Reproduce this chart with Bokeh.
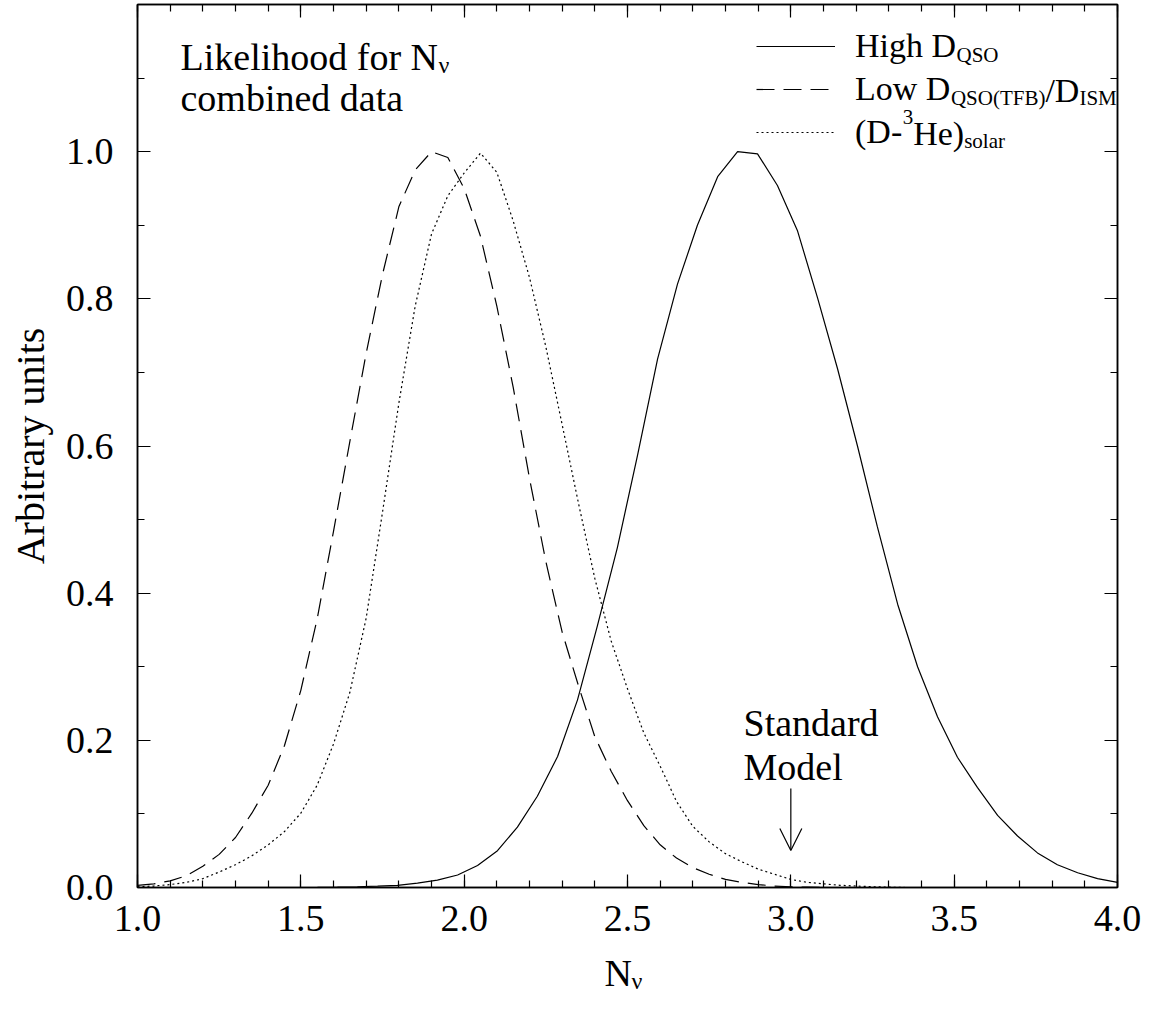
from bokeh.plotting import figure
from bokeh.models import (Range1d, LinearAxis, SingleIntervalTicker, FixedTicker,
                          NumeralTickFormatter, Label, Arrow, OpenHead, Legend, LegendItem)
from bokeh.embed import file_html
from bokeh.resources import INLINE

# ---------------- data ----------------
n_high = [1.000, 1.061, 1.122, 1.184, 1.245, 1.306, 1.367, 1.429, 1.490, 1.551,
          1.612, 1.673, 1.735, 1.796, 1.857, 1.918, 1.980, 2.041, 2.102, 2.163,
          2.224, 2.286, 2.347, 2.408, 2.469, 2.531, 2.592, 2.653, 2.714, 2.776,
          2.837, 2.898, 2.959, 3.020, 3.082, 3.143, 3.204, 3.265, 3.327, 3.388,
          3.449, 3.510, 3.571, 3.633, 3.694, 3.755, 3.816, 3.878, 3.939, 4.000]
high_dqso = [0.0, 0.0, 0.0, 0.0, 0.0, 0.0, 0.0, 0.0, 0.0, 0.0002,
             0.0005, 0.001, 0.002, 0.003, 0.006, 0.010, 0.017, 0.030, 0.050, 0.082,
             0.124, 0.178, 0.255, 0.356, 0.462, 0.588, 0.718, 0.820, 0.900, 0.966,
             1.000, 0.997, 0.954, 0.893, 0.801, 0.705, 0.600, 0.490, 0.385, 0.300,
             0.232, 0.177, 0.136, 0.098, 0.070, 0.047, 0.031, 0.020, 0.012, 0.007]

n_low = [1.00, 1.05, 1.10, 1.15, 1.20, 1.25, 1.30, 1.35, 1.40, 1.45,
         1.50, 1.55, 1.60, 1.65, 1.70, 1.75, 1.80, 1.85, 1.90, 1.95,
         2.00, 2.05, 2.10, 2.15, 2.20, 2.25, 2.30, 2.35, 2.40, 2.45,
         2.50, 2.55, 2.60, 2.65, 2.70, 2.75, 2.80, 2.85, 2.90, 2.95,
         3.00, 3.05, 3.10, 3.15, 3.20]
low_dqso = [0.003, 0.005, 0.009, 0.016, 0.029, 0.045, 0.068, 0.101, 0.139, 0.193,
            0.268, 0.365, 0.484, 0.606, 0.726, 0.833, 0.925, 0.975, 1.000, 0.992,
            0.950, 0.885, 0.790, 0.680, 0.556, 0.443, 0.347, 0.274, 0.205, 0.158,
            0.118, 0.084, 0.058, 0.040, 0.027, 0.018, 0.011, 0.007, 0.004, 0.002,
            0.001, 0.0005, 0.0, 0.0, 0.0]

n_solar = [1.00, 1.05, 1.10, 1.15, 1.20, 1.25, 1.30, 1.35, 1.40, 1.45,
           1.50, 1.55, 1.60, 1.65, 1.70, 1.75, 1.80, 1.85, 1.90, 1.95,
           2.00, 2.05, 2.10, 2.15, 2.20, 2.25, 2.30, 2.35, 2.40, 2.45,
           2.50, 2.55, 2.60, 2.65, 2.70, 2.75, 2.80, 2.85, 2.90, 2.95,
           3.00, 3.05, 3.10, 3.15, 3.20, 3.25, 3.30, 3.35, 3.40]
d_he3_solar = [0.001, 0.002, 0.004, 0.007, 0.012, 0.021, 0.031, 0.043, 0.058, 0.076,
               0.101, 0.139, 0.195, 0.265, 0.366, 0.510, 0.658, 0.790, 0.888, 0.940,
               0.971, 0.998, 0.972, 0.906, 0.829, 0.735, 0.629, 0.522, 0.420, 0.335,
               0.270, 0.210, 0.165, 0.117, 0.083, 0.062, 0.046, 0.035, 0.025, 0.018,
               0.011, 0.007, 0.005, 0.003, 0.002, 0.001, 0.0005, 0.0, 0.0]

y_major_ticks = [0.0, 0.2, 0.4, 0.6, 0.8, 1.0]
y_minor_ticks = [0.1, 0.3, 0.5, 0.7, 0.9, 1.1]
standard_model_nnu = 3.0

# ---------------- layout helpers (pixel -> data for annotations) ----------------
FL, FR, FT, FB = 137, 1117, 4, 887
X0, X1, Y0, Y1 = 1.0, 4.0, 0.0, 1.2
def px2x(px):
    return X0 + (px - FL) * (X1 - X0) / (FR - FL)
def px2y(py):
    return Y0 + (FB - py) * (Y1 - Y0) / (FB - FT)

FONT = "Liberation Serif"
BIG = "38px"
SUBBIG = "24px"
LEG = "34px"
LEGSUB = "21px"
YFIX = -11  # baseline correction for Label text

p = figure(width=1151, height=1011, output_backend="svg", toolbar_location=None,
           x_range=Range1d(X0, X1), y_range=Range1d(Y0, Y1),
           min_border_left=FL, min_border_right=1151 - FR,
           min_border_top=FT, min_border_bottom=1011 - FB)
p.xgrid.visible = False
p.ygrid.visible = False
p.background_fill_color = "white"
p.border_fill_color = "white"
p.outline_line_color = "black"
p.outline_line_width = 1.5

def style_axis(ax, show_labels):
    ax.axis_line_color = "black"
    ax.axis_line_width = 1.5
    ax.major_tick_in = 13
    ax.major_tick_out = 0
    ax.minor_tick_in = 7
    ax.minor_tick_out = 0
    ax.major_tick_line_color = "black"
    ax.minor_tick_line_color = "black"
    ax.major_tick_line_width = 1.2
    ax.minor_tick_line_width = 1.2
    if show_labels:
        ax.major_label_text_font = FONT
        ax.major_label_text_font_size = BIG
        ax.major_label_text_color = "black"
    else:
        ax.major_label_text_font_size = "1px"
        ax.major_label_text_color = None
        ax.major_label_standoff = 0

xt = SingleIntervalTicker(interval=0.5, num_minor_ticks=5)
yt = FixedTicker(ticks=y_major_ticks, minor_ticks=y_minor_ticks)
fmt = NumeralTickFormatter(format="0.0")

p.xaxis.ticker = xt
p.yaxis.ticker = yt
p.xaxis.formatter = fmt
p.yaxis.formatter = fmt
style_axis(p.xaxis[0], True)
style_axis(p.yaxis[0], True)
p.xaxis.major_label_standoff = 18
p.yaxis.major_label_standoff = 24
p.yaxis.axis_label = "Arbitrary units"
p.yaxis.axis_label_text_font = FONT
p.yaxis.axis_label_text_font_size = "40px"
p.yaxis.axis_label_text_font_style = "normal"
p.yaxis.axis_label_text_color = "black"
p.yaxis.axis_label_standoff = 10

top = LinearAxis(ticker=SingleIntervalTicker(interval=0.5, num_minor_ticks=5))
style_axis(top, False)
p.add_layout(top, "above")
right = LinearAxis(ticker=FixedTicker(ticks=y_major_ticks, minor_ticks=y_minor_ticks))
style_axis(right, False)
p.add_layout(right, "right")

# ---------------- curves ----------------
r1 = p.line(n_high, high_dqso, line_color="black", line_width=1.2)
r2 = p.line(n_low, low_dqso, line_color="black", line_width=1.2, line_dash="18 9")
r3 = p.line(n_solar, d_he3_solar, line_color="black", line_width=1.2, line_dash="2 3")

legend = Legend(items=[LegendItem(label="High D", renderers=[r1]),
                       LegendItem(label="Low D", renderers=[r2]),
                       LegendItem(label="(D-", renderers=[r3])],
                location=(756 - FL, FB - 152), orientation="vertical",
                glyph_width=79, glyph_height=40, label_height=40, label_standoff=20,
                spacing=3, padding=0, margin=0,
                border_line_alpha=0, background_fill_alpha=0,
                label_text_font=FONT, label_text_font_size=LEG,
                label_text_color="black")
p.add_layout(legend)

def lab(text, px, py, size, place=None):
    l = Label(x=px2x(px), y=px2y(py + YFIX), text=text, text_font=FONT,
              text_font_size=size, text_color="black", text_align="left",
              text_baseline="alphabetic")
    if place is None:
        p.add_layout(l)
    else:
        p.add_layout(l, place)

# legend sub/superscripts
lab("QSO", 956, 65, LEGSUB)
lab("QSO(TFB)", 950.4, 108, LEGSUB)
lab("/D", 1044.9, 100.5, LEG)
lab("ISM", 1078.9, 108, LEGSUB)
lab("3", 902.2, 127, LEGSUB)
lab("He)", 912.7, 143.5, LEG)
lab("solar", 963.7, 151, LEGSUB)

# title text
lab("Likelihood for N", 180, 67, BIG)
lab("\u03bd", 438, 75, SUBBIG)
lab("combined data", 180, 108, BIG)

# x axis label N_nu (outside the frame -> side panel so it is not clipped)
lab("N", 604, 983, BIG, "below")
lab("\u03bd", 631, 991, SUBBIG, "below")

# Standard model marker
lab("Standard", 743, 733, BIG)
lab("Model", 743, 777, BIG)
p.add_layout(Arrow(end=OpenHead(size=22, line_width=1.2, line_color="black"),
                   x_start=standard_model_nnu, y_start=px2y(788),
                   x_end=standard_model_nnu, y_end=px2y(850),
                   line_width=1.2, line_color="black"))

open("out.html", "w").write(file_html(p, INLINE))
